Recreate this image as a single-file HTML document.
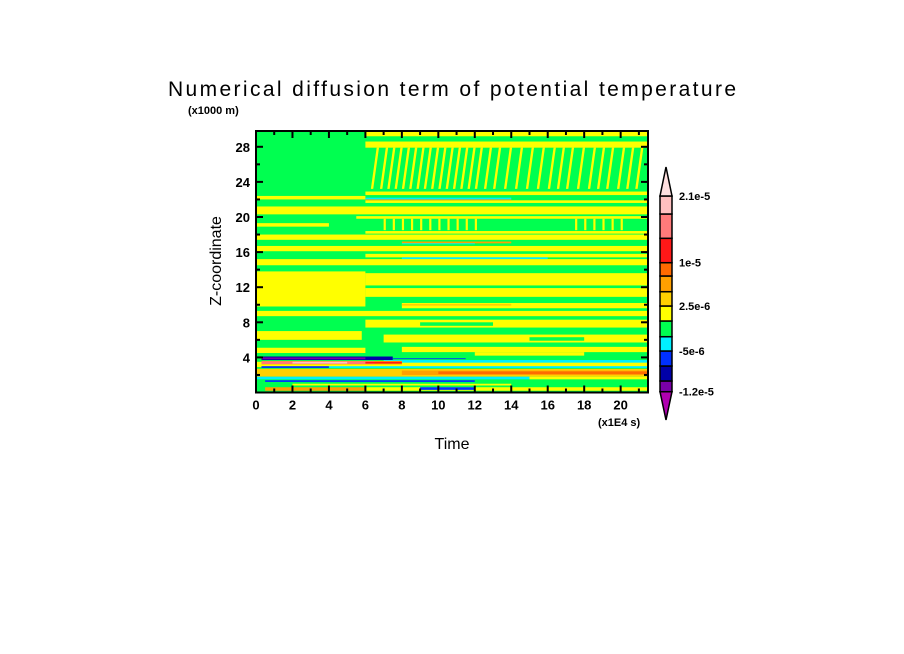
<!DOCTYPE html>
<html><head><meta charset="utf-8"><style>
body{margin:0;background:#fff;width:904px;height:654px;overflow:hidden;font-family:"Liberation Sans",sans-serif}
svg{display:block}
text{font-family:"Liberation Sans",sans-serif;fill:#000}
</style></head><body>
<svg id="chart" width="904" height="654" viewBox="0 0 904 654" xmlns="http://www.w3.org/2000/svg">
<text x="452" y="96" font-size="21" text-anchor="middle" textLength="568">Numerical diffusion term of potential temperature</text>
<text x="188" y="114" font-size="11" font-weight="bold">(x1000 m)</text>
<text x="598" y="426" font-size="11" font-weight="bold">(x1E4 s)</text>
<text x="452" y="449" font-size="16" text-anchor="middle">Time</text>
<text x="0" y="0" font-size="16" text-anchor="middle" transform="translate(221,261) rotate(-90)">Z-coordinate</text>
<g id="heat"></g>
<g id="axes"></g>
<g id="cbar"></g>
</svg>
<script>
// data
const levelColors=["#b000b0","#7a00a8","#0000a8","#0030ff","#00f0ff","#00ff50","#ffff00","#ffd000","#ffa000","#ff6a00","#ff1818","#ff7a7a","#ffc0c0","#ffe0e0"];
const cbarLabels=["2.1e-5","1e-5","2.5e-6","-5e-6","-1.2e-5"];
const xTicks=[0,2,4,6,8,10,12,14,16,18,20];
const yTicks=[4,8,12,16,20,24,28];
// bands: [t0,t1,z0,z1,level]
const bands=[
[0,21.5,0,29.8,5],
[6,21.5,29.2,29.8,6],[6,21.5,27.9,28.6,6],
[0,6,22.0,22.4,6],[6,21.5,22.5,22.9,6],[6,21.5,21.6,21.9,6],
[6,14,22.0,22.2,4],[6,14,21.9,22.0,8],
[0,21.5,20.3,21.2,6],[0,4,18.9,19.3,6],[5.5,21.5,19.8,20.1,6],
[0,21.5,17.4,18.0,6],[6,21.5,18.1,18.4,6],[8,14,17.0,17.2,8],[8,12,16.9,17.0,4],
[0,21.5,16.1,16.7,6],[6,21.5,15.4,15.8,6],[8,16,15.2,15.4,4],
[0,21.5,14.5,15.2,6],[0,6,9.8,13.8,6],[6,21.5,12.2,13.6,6],[6,21.5,10.9,11.9,6],
[8,21.5,9.6,10.2,6],[8,14,9.9,10.1,7],
[0,21.5,8.7,9.3,6],[6,21.5,7.4,8.3,6],[0,5.8,6.0,7.0,6],[7,21.5,5.7,6.6,6],
[9,13,7.6,8.0,5],[15,18,5.9,6.3,5],
[0,6,4.5,5.1,6],[8,21.5,4.6,5.2,6],[12,18,4.2,4.6,6],
[0,21.5,2.9,3.5,6],[0.3,7.5,3.7,4.1,2],[0.3,6,3.8,4.0,1],[7.5,11.5,3.8,3.9,3],
[7,21.5,3.4,3.7,4],[0.3,8,3.2,3.6,8],[0.3,6.5,3.25,3.55,11],[2,5,3.3,3.5,12],[6,8,3.3,3.5,10],
[0.3,4,2.8,3.0,3],[4,21.5,2.8,3.0,4],
[0,21.5,1.8,2.7,7],[8,21.5,2.0,2.5,8],[10,21.5,2.1,2.4,9],
[0,15,1.5,1.8,4],[15,21.5,1.5,1.8,6],[0.5,12,1.2,1.4,3],
[0,21.5,0.6,1.2,5],[2,14,0.8,1.0,6],[0.5,6,0.2,0.6,8],[6,21.5,0.2,0.6,6],[9,12,0.3,0.6,3]
];
// hatched stripe starts (time) in upper layer z 23-28
const hatchT=[6.3,6.8,7.2,7.6,8.0,8.4,8.8,9.2,9.6,10.0,10.4,10.8,11.2,11.6,12.0,12.5,13.0,13.6,14.2,14.8,15.4,16.0,16.5,17.0,17.6,18.2,18.7,19.2,19.8,20.3,20.8];
const hatch2T=[7.0,7.5,8.0,8.5,9.0,9.5,10.0,10.5,11.0,11.5,12.0,17.5,18.0,18.5,19.0,19.5,20.0];
const X0=256,X1=648,Y0=392.5,Y1=131,TMAX=21.5,ZMAX=29.8;
const sx=t=>X0+(t/TMAX)*(X1-X0);
const sy=z=>Y0-(z/ZMAX)*(Y0-Y1);
const NS="http://www.w3.org/2000/svg";
function mk(tag,attrs,parent){const e=document.createElementNS(NS,tag);for(const k in attrs)e.setAttribute(k,attrs[k]);parent.appendChild(e);return e;}
const heat=document.getElementById('heat');
bands.forEach(b=>{
 const r=mk('rect',{x:sx(b[0]),y:sy(b[3]),width:sx(b[1])-sx(b[0]),height:sy(b[2])-sy(b[3]),fill:levelColors[b[4]]},heat);
 
 
});
hatchT.forEach(t=>{
 const r=mk('rect',{x:sx(t),y:sy(27.9),width:sx(0.13)-sx(0),height:sy(23.2)-sy(27.9),fill:levelColors[6],transform:`skewX(-8)`,'transform-origin':`${sx(t)} ${sy(23.2)}`},heat);
 
 
});
hatch2T.forEach(t=>{
 const r=mk('rect',{x:sx(t),y:sy(19.8),width:sx(0.12)-sx(0),height:sy(18.5)-sy(19.8),fill:levelColors[6]},heat);
 
 
});
const axes=document.getElementById('axes');
const frame=mk('rect',{x:X0,y:Y1,width:X1-X0,height:Y0-Y1,fill:'none',stroke:'#000','stroke-width':2},axes);


for(let t=0;t<=21;t++){
 const L=(t%2==0)?7:4,x=sx(t);
 mk('line',{x1:x,x2:x,y1:Y0,y2:Y0-L,stroke:'#000','stroke-width':2},axes);
 mk('line',{x1:x,x2:x,y1:Y1,y2:Y1+L,stroke:'#000','stroke-width':2},axes);
}
xTicks.forEach(t=>{
 const tx=mk('text',{x:sx(t),y:Y0+17,'font-size':13,'font-weight':'bold','text-anchor':'middle'},axes);tx.textContent=t;
 
 
});
for(let z=2;z<=28;z+=2){
 const L=(z%4==0)?7:4,y=sy(z);
 mk('line',{x1:X0,x2:X0+L,y1:y,y2:y,stroke:'#000','stroke-width':2},axes);
 mk('line',{x1:X1,x2:X1-L,y1:y,y2:y,stroke:'#000','stroke-width':2},axes);
}
yTicks.forEach(z=>{
 const tx=mk('text',{x:X0-6,y:sy(z)+5,'font-size':13,'font-weight':'bold','text-anchor':'end'},axes);tx.textContent=z;
 
 
});
// colorbar
const cb=document.getElementById('cbar');
const cx0=660,cx1=672;
const edges=[391.7,381,366,351,336.7,321,306,291.7,276,262.7,238.3,214,196];
mk('polygon',{points:`${cx0},${edges[0]} ${cx1},${edges[0]} ${(cx0+cx1)/2},420`,fill:levelColors[0],stroke:'#000','stroke-width':1.5},cb);
for(let i=0;i<12;i++){
 const r=mk('rect',{x:cx0,y:edges[i+1],width:cx1-cx0,height:edges[i]-edges[i+1],fill:levelColors[i+1],stroke:'#000','stroke-width':1.5},cb);
 
 
}
mk('polygon',{points:`${cx0},196 ${cx1},196 ${(cx0+cx1)/2},167`,fill:levelColors[13],stroke:'#000','stroke-width':1.5},cb);
const labY=[196,262.7,306,351,391.7];
cbarLabels.forEach((s,i)=>{
 const tx=mk('text',{x:679,y:labY[i]+4,'font-size':11,'font-weight':'bold'},cb);tx.textContent=s;
 
 
});
</script>
</body></html>
